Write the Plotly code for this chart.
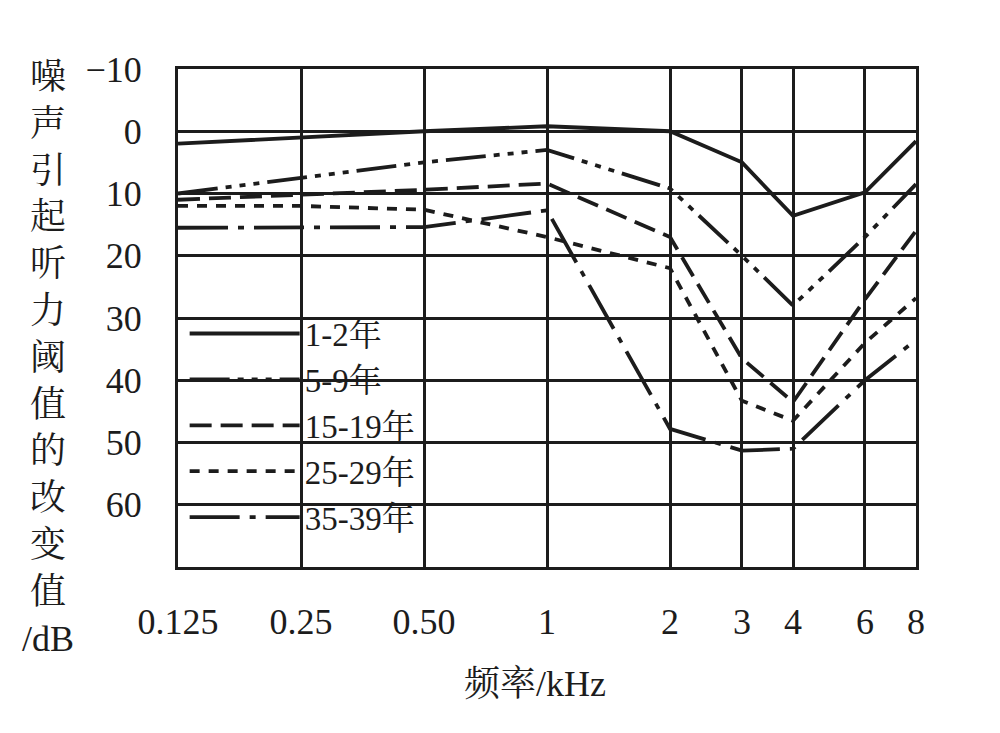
import plotly.graph_objects as go

# frequencies (kHz) and threshold shift (dB)
freqs = [0.125, 0.25, 0.5, 1, 2, 3, 4, 6, 8]
freq_labels = ["0.125", "0.25", "0.50", "1", "2", "3", "4", "6", "8"]

years_1_2 = [2, 1, 0, -0.8, 0, 5, 13.6, 9.8, 1.6]
years_5_9 = [10, 7.5, 5, 3, 9.2, 20, 28, 17, 8.5]
years_15_19 = [11, 10.2, 9.4, 8.4, 17, 36.5, 43.5, 27, 16]
years_25_29 = [12, 12, 12.6, 17, 22, 43.3, 46.5, 34, 26.8]
years_35_39 = [15.5, 15.4, 15.4, 12.7, 47.8, 51.3, 51, 40, 33.5]

y_ticks = [-10, 0, 10, 20, 30, 40, 50, 60]
y_labels = ["\u221210", "0", "10", "20", "30", "40", "50", "60"]

series = [
    ("1-2年", years_1_2, "solid"),
    ("5-9年", years_5_9, "40px,8px,6px,8px,6px,8px,6px,8px"),
    ("15-19年", years_15_19, "22px,9px"),
    ("25-29年", years_25_29, "10px,9px"),
    ("35-39年", years_35_39, "50px,10px,6px,10px"),
]

FONT = "Liberation Serif, Noto Serif CJK SC, Noto Sans CJK SC, serif"
INK = "#1c1c1c"

fig = go.Figure()
for name, vals, dash in series:
    fig.add_trace(go.Scatter(
        x=freqs, y=vals, mode="lines", name=name,
        line=dict(color=INK, width=3.8, dash=dash),
    ))

# page body adds ~8px offset, margins compensate for it
fig.update_layout(
    width=1000, height=733,
    paper_bgcolor="white", plot_bgcolor="white",
    margin=dict(l=170, r=92, t=61, b=174),
    font=dict(family=FONT, color=INK, size=34),
    showlegend=True,
    legend=dict(
        x=0.009, y=0.525, xanchor="left", yanchor="top",
        bgcolor="rgba(0,0,0,0)", borderwidth=0,
        font=dict(size=33, family=FONT),
        itemwidth=110, tracegroupgap=0,
    ),
    annotations=[
        dict(text="噪<br>声<br>引<br>起<br>听<br>力<br>阈<br>值<br>的<br>改<br>变<br>值<br>/dB",
             xref="paper", yref="paper", x=-0.176, y=0.42,
             xanchor="center", yanchor="middle", showarrow=False,
             font=dict(size=36, family=FONT)),
        dict(text="频率/kHz", xref="paper", yref="paper", x=0.484, y=-0.235,
             xanchor="center", yanchor="middle", showarrow=False,
             font=dict(size=36, family=FONT)),
    ],
)

fig.update_xaxes(
    type="log", range=[-0.90309, 0.90309],
    tickvals=freqs, ticktext=freq_labels, ticks="",
    ticklabelstandoff=21, tickfont=dict(size=36),
    showgrid=True, gridcolor=INK, gridwidth=2.5,
    showline=True, linecolor=INK, linewidth=3, mirror=True,
    zeroline=False,
)
fig.update_yaxes(
    range=[70, -10], tickvals=y_ticks, ticktext=y_labels, ticks="",
    ticklabelstandoff=26, tickfont=dict(size=36),
    showgrid=True, gridcolor=INK, gridwidth=2.5,
    showline=True, linecolor=INK, linewidth=3, mirror=True,
    zeroline=False,
)

fig.write_html("out.html")
